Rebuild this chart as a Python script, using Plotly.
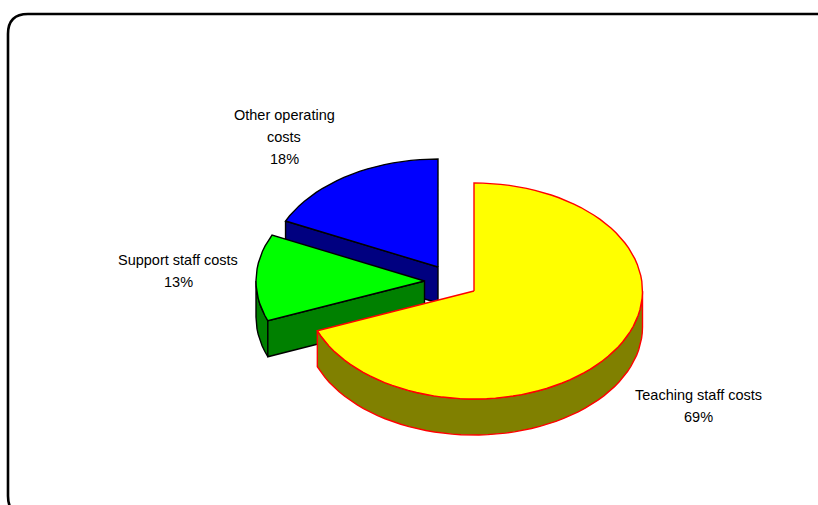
import numpy as np
import plotly.graph_objects as go

# Cost breakdown shown as an exploded 3D pie
categories = ["Teaching staff costs", "Support staff costs", "Other operating costs"]
values = [69, 13, 18]
label_lines = [["Teaching staff costs"], ["Support staff costs"], ["Other operating", "costs"]]

# Pie projection, in page pixels
RX, RY, DEPTH = 168.5, 108, 36
FONT = "Liberation Sans"
FONT_SIZE = 14.5
LINE_GAP = 22

# Per-slice drawing setup: apex position, top, wall and outline colours, label anchor
slice_style = {
    "Teaching staff costs": dict(apex=(474, 291), top="#ffff00", wall="#808000", edge="#ff0000", label=(698, 395)),
    "Support staff costs": dict(apex=(424.5, 281), top="#00ff00", wall="#008000", edge="#000000", label=(178, 260)),
    "Other operating costs": dict(apex=(438, 267), top="#0000ff", wall="#000080", edge="#000000", label=(284, 115)),
}

total = sum(values)
stops = np.cumsum([0] + values) / total * 360.0
spans = {c: (stops[i], stops[i + 1]) for i, c in enumerate(categories)}


def rim(apex, a0, a1, drop=0.0):
    """Points on the tilted rim, angles clockwise from 12 o'clock."""
    n = max(int(abs(a1 - a0) / 3), 2)
    t = np.radians(np.linspace(a0, a1, n + 1))
    return apex[0] + RX * np.sin(t), apex[1] - RY * np.cos(t) + drop


def poly(fig, xs, ys, fill, edge, width=1.4):
    xs, ys = list(xs), list(ys)
    fig.add_trace(go.Scatter(
        x=xs + xs[:1], y=ys + ys[:1], mode="lines", fill="toself", fillcolor=fill,
        line=dict(color=edge, width=width), hoverinfo="skip", showlegend=False,
    ))


def outer_wall(fig, cat):
    s = slice_style[cat]
    a0, a1 = spans[cat]
    # Only the part of the rim facing the viewer gets a wall
    a0, a1 = max(a0, 90.0), min(a1, 270.0)
    if a1 <= a0:
        return
    x, y = rim(s["apex"], a0, a1)
    xb, yb = rim(s["apex"], a0, a1, DEPTH)
    poly(fig, np.r_[x, xb[::-1]], np.r_[y, yb[::-1]], s["wall"], s["edge"])


def cut_wall(fig, cat, angle):
    s = slice_style[cat]
    x, y = rim(s["apex"], angle, angle + 0.001)
    cx, cy = s["apex"]
    poly(fig, [x[0], cx, cx, x[0]], [y[0], cy, cy + DEPTH, y[0] + DEPTH], s["wall"], s["edge"])


def top_face(fig, cat):
    s = slice_style[cat]
    a0, a1 = spans[cat]
    x, y = rim(s["apex"], a0, a1)
    cx, cy = s["apex"]
    poly(fig, np.r_[cx, x], np.r_[cy, y], s["top"], s["edge"])


fig = go.Figure()

# Back to front: operating costs, support staff, teaching staff
other, support, teaching = categories[2], categories[1], categories[0]
cut_wall(fig, other, spans[other][0])
top_face(fig, other)
outer_wall(fig, support)
cut_wall(fig, support, spans[support][0])
top_face(fig, support)
outer_wall(fig, teaching)
top_face(fig, teaching)

# Slice labels: name lines, then the share
for cat, val, lines in zip(categories, values, label_lines):
    lx, ly = slice_style[cat]["label"]
    for k, text in enumerate(lines + [f"{val}%"]):
        fig.add_annotation(
            x=lx, y=ly + k * LINE_GAP, text=text, showarrow=False,
            xanchor="center", yanchor="middle",
            font=dict(family=FONT, size=FONT_SIZE, color="#000000"),
        )

# Rounded chart frame running off the right and bottom of the page
fig.add_shape(
    type="path", xref="x", yref="y", layer="below",
    path="M 28 14 L 816 14 Q 836 14 836 34 L 836 496 Q 836 516 816 516 L 28 516 Q 8 516 8 496 L 8 34 Q 8 14 28 14 Z",
    line=dict(color="#000000", width=2.6), fillcolor="#ffffff",
)

fig.update_layout(
    width=818, height=505, margin=dict(l=0, r=0, t=0, b=0),
    paper_bgcolor="#ffffff", plot_bgcolor="#ffffff",
    xaxis=dict(range=[0, 818], visible=False, fixedrange=True),
    yaxis=dict(range=[505, 0], visible=False, fixedrange=True),
    showlegend=False,
)
fig.write_html("out.html", config=dict(displayModeBar=False))
